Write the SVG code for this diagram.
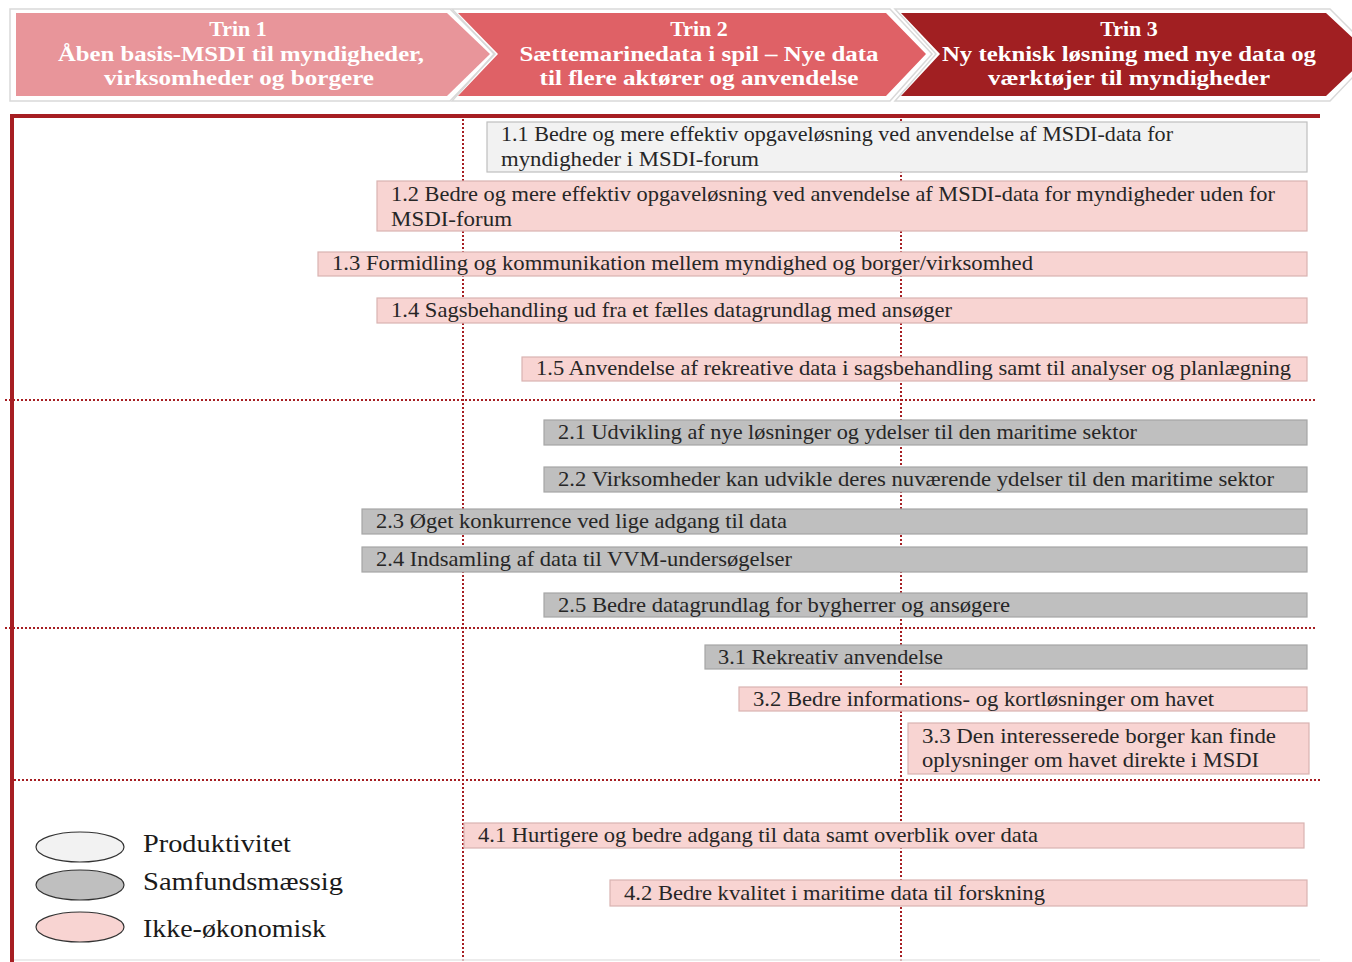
<svg xmlns="http://www.w3.org/2000/svg" width="1352" height="962" viewBox="0 0 1352 962">
  <style>
    .hd { font-family: "Liberation Serif", "DejaVu Serif", serif; font-weight: bold; font-size: 22px; fill: #ffffff; text-anchor: middle; }
    .tx { font-family: "Liberation Serif", "DejaVu Serif", serif; font-size: 21px; fill: #262626; }
    .lg { font-family: "Liberation Serif", "DejaVu Serif", serif; font-size: 26px; fill: #1a1a1a; }
    .prod { fill: #F2F2F2; stroke: #BFBFBF; stroke-width: 1.2; }
    .samf { fill: #BFBFBF; stroke: #A6A6A6; stroke-width: 1.2; }
    .ikke { fill: #F8D4D2; stroke: #D9B3B1; stroke-width: 1.2; }
    .grid { stroke: #A61E22; stroke-width: 2; stroke-dasharray: 2 2; fill: none; }
    .frame { stroke: #A61E22; stroke-width: 4; fill: none; }
    .chev-ol { fill: none; stroke: #D9D9D9; stroke-width: 1.5; }
  </style>

  <rect x="0" y="0" width="1352" height="962" fill="#ffffff"/>

  <!-- Phase header chevrons -->
  <g id="trin1">
    <polygon class="chev-ol" points="10,9 450,9 495,54 450,101 10,101"/>
    <polygon points="16,13 447,13 490,54 447,96 16,96" fill="#E8959A"/>
    <text class="hd" x="238" y="36">Trin 1</text>
    <text class="hd" x="241" y="61" textLength="366" lengthAdjust="spacingAndGlyphs">Åben basis-MSDI til myndigheder,</text>
    <text class="hd" x="239" y="85" textLength="270" lengthAdjust="spacingAndGlyphs">virksomheder og borgere</text>
  </g>
  <g id="trin2">
    <polygon class="chev-ol" points="452,9 890,9 932,54 890,101 452,101 494,54"/>
    <polygon points="458,13 886,13 926,54 886,96 458,96 498,54" fill="#DF6166"/>
    <text class="hd" x="699" y="36">Trin 2</text>
    <text class="hd" x="699" y="61" textLength="359" lengthAdjust="spacingAndGlyphs">Sættemarinedata i spil – Nye data</text>
    <text class="hd" x="699" y="85" textLength="319" lengthAdjust="spacingAndGlyphs">til flere aktører og anvendelse</text>
  </g>
  <g id="trin3">
    <polygon class="chev-ol" points="895,9 1330,9 1375,54 1330,101 895,101 936,54"/>
    <polygon points="901,13 1326,13 1370,54 1326,96 901,96 940,54" fill="#A11F22"/>
    <text class="hd" x="1129" y="36">Trin 3</text>
    <text class="hd" x="1129" y="61" textLength="374" lengthAdjust="spacingAndGlyphs">Ny teknisk løsning med nye data og</text>
    <text class="hd" x="1129" y="85" textLength="282" lengthAdjust="spacingAndGlyphs">værktøjer til myndigheder</text>
  </g>

  <!-- Frame and dotted grid -->
  <g id="connectors">
    <line class="grid" x1="5" y1="400" x2="1315" y2="400"/>
    <line class="grid" x1="5" y1="628" x2="1315" y2="628"/>
    <line class="grid" x1="10" y1="780" x2="1320" y2="780"/>
    <line class="grid" x1="463" y1="119" x2="463" y2="962"/>
    <line class="grid" x1="901" y1="119" x2="901" y2="962"/>
    <line x1="14" y1="960" x2="1320" y2="960" stroke="#E6E6E6" stroke-width="1.5"/>
    <polyline class="frame" points="1320,116 12,116 12,962"/>
  </g>

  <!-- Effect boxes -->
  <g id="e1-1">
    <rect class="prod" x="487" y="122" width="820" height="50"/>
    <text class="tx" x="501" y="141" textLength="672" lengthAdjust="spacingAndGlyphs">1.1 Bedre og mere effektiv opgaveløsning ved anvendelse af MSDI-data for</text>
    <text class="tx" x="501" y="166" textLength="258" lengthAdjust="spacingAndGlyphs">myndigheder i MSDI-forum</text>
  </g>
  <g id="e1-2">
    <rect class="ikke" x="377" y="181" width="930" height="50"/>
    <text class="tx" x="391" y="201" textLength="884" lengthAdjust="spacingAndGlyphs">1.2 Bedre og mere effektiv opgaveløsning ved anvendelse af MSDI-data for myndigheder uden for</text>
    <text class="tx" x="391" y="226" textLength="121" lengthAdjust="spacingAndGlyphs">MSDI-forum</text>
  </g>
  <g id="e1-3">
    <rect class="ikke" x="318" y="252" width="989" height="24"/>
    <text class="tx" x="332" y="270" textLength="701" lengthAdjust="spacingAndGlyphs">1.3 Formidling og kommunikation mellem myndighed og borger/virksomhed</text>
  </g>
  <g id="e1-4">
    <rect class="ikke" x="377" y="298" width="930" height="25"/>
    <text class="tx" x="391" y="317" textLength="561" lengthAdjust="spacingAndGlyphs">1.4 Sagsbehandling ud fra et fælles datagrundlag med ansøger</text>
  </g>
  <g id="e1-5">
    <rect class="ikke" x="522" y="357" width="785" height="24"/>
    <text class="tx" x="536" y="375" textLength="755" lengthAdjust="spacingAndGlyphs">1.5 Anvendelse  af rekreative data i sagsbehandling samt til analyser og planlægning</text>
  </g>
  <g id="e2-1">
    <rect class="samf" x="544" y="420" width="763" height="25"/>
    <text class="tx" x="558" y="439" textLength="579" lengthAdjust="spacingAndGlyphs">2.1 Udvikling af nye løsninger og ydelser til den maritime sektor</text>
  </g>
  <g id="e2-2">
    <rect class="samf" x="544" y="467" width="763" height="25"/>
    <text class="tx" x="558" y="486" textLength="716" lengthAdjust="spacingAndGlyphs">2.2 Virksomheder kan udvikle deres nuværende ydelser til den maritime sektor</text>
  </g>
  <g id="e2-3">
    <rect class="samf" x="362" y="509" width="945" height="25"/>
    <text class="tx" x="376" y="528" textLength="411" lengthAdjust="spacingAndGlyphs">2.3 Øget konkurrence ved lige adgang til data</text>
  </g>
  <g id="e2-4">
    <rect class="samf" x="362" y="547" width="945" height="25"/>
    <text class="tx" x="376" y="566" textLength="416" lengthAdjust="spacingAndGlyphs">2.4 Indsamling af data til VVM-undersøgelser</text>
  </g>
  <g id="e2-5">
    <rect class="samf" x="544" y="593" width="763" height="24"/>
    <text class="tx" x="558" y="612" textLength="452" lengthAdjust="spacingAndGlyphs">2.5 Bedre datagrundlag for bygherrer og ansøgere</text>
  </g>
  <g id="e3-1">
    <rect class="samf" x="705" y="645" width="602" height="24"/>
    <text class="tx" x="718" y="664" textLength="225" lengthAdjust="spacingAndGlyphs">3.1 Rekreativ anvendelse</text>
  </g>
  <g id="e3-2">
    <rect class="ikke" x="739" y="687" width="568" height="24"/>
    <text class="tx" x="753" y="706" textLength="461" lengthAdjust="spacingAndGlyphs">3.2 Bedre informations- og kortløsninger om havet</text>
  </g>
  <g id="e3-3">
    <rect class="ikke" x="908" y="723" width="401" height="51"/>
    <text class="tx" x="922" y="743" textLength="354" lengthAdjust="spacingAndGlyphs">3.3 Den interesserede borger kan finde</text>
    <text class="tx" x="922" y="767" textLength="337" lengthAdjust="spacingAndGlyphs">oplysninger om havet direkte i MSDI</text>
  </g>
  <g id="e4-1">
    <rect class="ikke" x="464" y="823" width="840" height="25"/>
    <text class="tx" x="478" y="842" textLength="560" lengthAdjust="spacingAndGlyphs">4.1 Hurtigere og bedre adgang til data samt overblik over data</text>
  </g>
  <g id="e4-2">
    <rect class="ikke" x="610" y="880" width="697" height="26"/>
    <text class="tx" x="624" y="900" textLength="421" lengthAdjust="spacingAndGlyphs">4.2 Bedre kvalitet i maritime data til forskning</text>
  </g>

  <!-- Legend -->
  <g id="legend">
    <ellipse cx="80" cy="847" rx="44" ry="15" fill="#F2F2F2" stroke="#333333" stroke-width="1.2"/>
    <ellipse cx="80" cy="885" rx="44" ry="15" fill="#BFBFBF" stroke="#333333" stroke-width="1.2"/>
    <ellipse cx="80" cy="927" rx="44" ry="15" fill="#F8D4D2" stroke="#333333" stroke-width="1.2"/>
    <text class="lg" x="143" y="852" textLength="148" lengthAdjust="spacingAndGlyphs">Produktivitet</text>
    <text class="lg" x="143" y="890" textLength="200" lengthAdjust="spacingAndGlyphs">Samfundsmæssig</text>
    <text class="lg" x="143" y="937" textLength="183" lengthAdjust="spacingAndGlyphs">Ikke-økonomisk</text>
  </g>
</svg>
